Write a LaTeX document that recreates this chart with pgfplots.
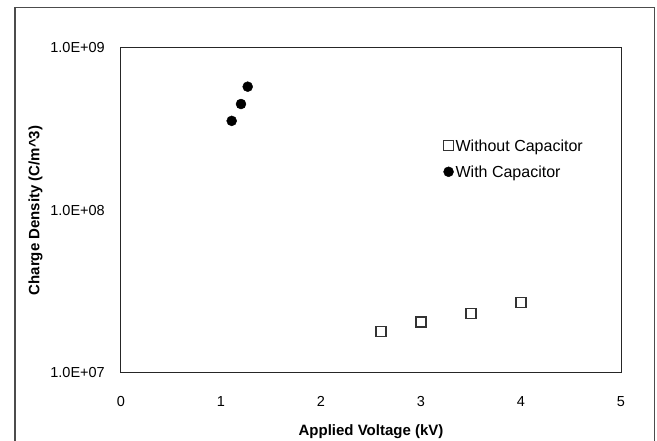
\documentclass[border=0pt]{standalone}
\usepackage{fontspec}
\setmainfont{Liberation Sans}
\usepackage{pgfplots}
\pgfplotsset{compat=1.18}
\begin{document}
\begin{tikzpicture}[font=\fontsize{14.5}{17}\selectfont]
\begin{axis}[
  at={(0pt,0pt)}, anchor=south west,
  scale only axis, width=500pt, height=325pt,
  xmin=0, xmax=5, ymode=log, ymin=1e7, ymax=1e9,
  xtick={0,1,2,3,4,5}, xticklabels={0,1,2,3,4,5},
  ytick={1e7,1e8,1e9}, yticklabels={1.0E+07,1.0E+08,1.0E+09},
  minor tick num=0, yminorticks=false,
  major tick length=0pt,
  axis line style={draw=black!85, line width=1pt},
  xticklabel style={inner sep=0pt, anchor=north, yshift=-23pt},
  yticklabel style={inner sep=0pt, anchor=east, xshift=-16pt},
  xlabel={\bfseries Applied Voltage (kV)},
  ylabel={\bfseries Charge Density (C/m\textasciicircum 3)},
  xlabel style={at={(axis description cs:0.5,-0.1806)}, anchor=center, font=\fontsize{15}{17}\selectfont},
  ylabel style={at={(axis description cs:-0.171,0.5)}, anchor=center, font=\fontsize{15}{17}\selectfont},
  legend image code/.code={\draw[only marks,#1] plot coordinates {(0pt,2.5pt)};},
  legend cell align=left,
  legend style={draw=none, fill=none, at={(axis description cs:0.6388,0.6523)}, anchor=west,
    inner xsep=3pt, inner ysep=2pt, row sep=9.6pt, font=\fontsize{16}{18}\selectfont,
    nodes={inner sep=2pt, text height=10pt, text depth=3pt}},
]
\addplot[only marks, mark=square, mark size=5pt, mark options={draw=black!80, line width=1.1pt, fill=white}]
  coordinates {(2.6,1.81e7) (3.0,2.06e7) (3.5,2.33e7) (4.0,2.71e7)};
\addlegendentry{Without Capacitor}
\addplot[only marks, mark=*, mark size=5pt, mark options={draw=black, fill=black}]
  coordinates {(1.107,3.56e8) (1.20,4.52e8) (1.267,5.78e8)};
\addlegendentry{With Capacitor}
\end{axis}
\draw[black!70, line width=1.3pt] (-106pt,-90pt) -- (-106pt,365.5pt) -- (533.3pt,365.5pt) -- (533.3pt,-90pt);
\pgfresetboundingbox
\path[use as bounding box] (-121pt,-68pt) rectangle (536pt,373pt);
\end{tikzpicture}
\end{document}
